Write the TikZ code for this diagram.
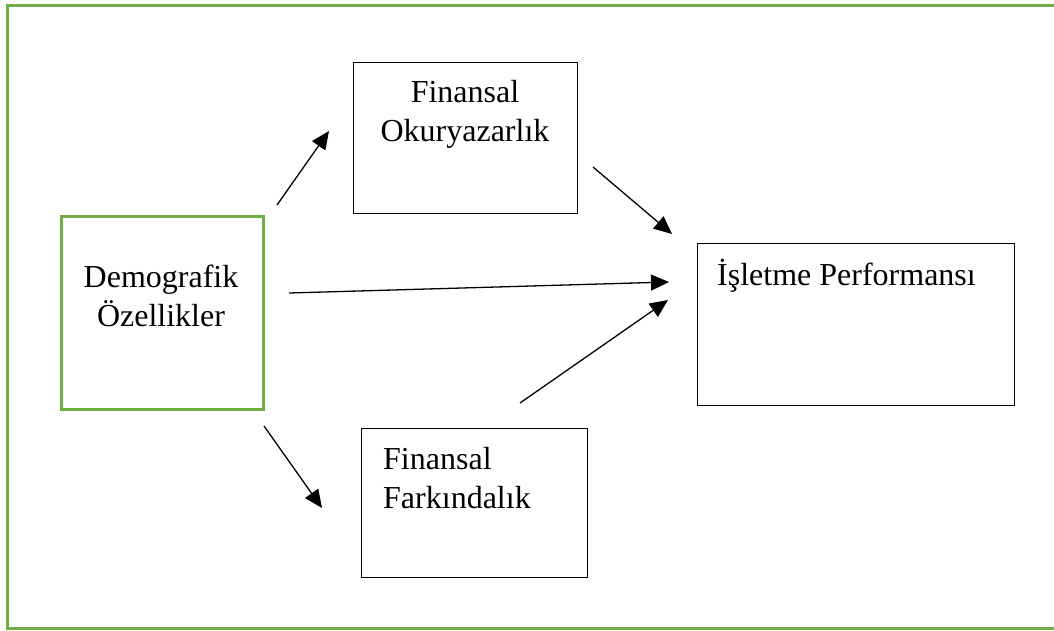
\documentclass[tikz,border=0pt]{standalone}
\usepackage{fontspec}
\setmainfont{Liberation Serif}
\usetikzlibrary{arrows.meta}
\definecolor{wordgreen}{RGB}{112,173,71}
\begin{document}
\begin{tikzpicture}[x=1pt,y=-1pt,
  box/.style={draw=black,line width=1.3pt,inner sep=0pt,anchor=north west},
  gbox/.style={draw=wordgreen,line width=2.6pt,inner sep=0pt,anchor=north west},
  txt/.style={font=\fontsize{32}{38}\selectfont,inner sep=0pt,anchor=base},
  txtl/.style={font=\fontsize{32}{38}\selectfont,inner sep=0pt,anchor=base west},
  arr/.style={line width=1.3pt,-{Triangle[length=18pt,width=16pt]}}]
\useasboundingbox (0,0) rectangle (1054,630);
% outer frame (open on the right)
\draw[wordgreen,line width=3pt] (1054,5) -- (7,5) -- (7,628) -- (1054,628);
% boxes
\node[box,minimum width=224pt,minimum height=151pt] (fo) at (353,62) {};
\node[gbox,minimum width=202pt,minimum height=193pt] (dem) at (60,215) {};
\node[box,minimum width=317pt,minimum height=162pt] (ip) at (697,243) {};
\node[box,minimum width=226pt,minimum height=149pt] (ff) at (361,428) {};
% texts
\node[txt] (t1) at (465,102) {Finansal};
\node[txt] (t2) at (465,141) {Okuryazarlık};
\node[txt] (t3) at (161,287) {Demografik};
\node[txt] (t4) at (161,326) {Özellikler};
\node[txtl] (t5) at (717,285) {İşletme Performansı};
\node[txtl] (t6) at (383,469) {Finansal};
\node[txtl] (t7) at (383,508) {Farkındalık};
% arrow end points
\coordinate (a1s) at (277,205); \coordinate (a1e) at (329,131);
\coordinate (a2s) at (593,167); \coordinate (a2e) at (672,234);
\coordinate (a3s) at (289,293); \coordinate (a3e) at (669,282);
\coordinate (a4s) at (520,403); \coordinate (a4e) at (668,300);
\coordinate (a5s) at (264,426); \coordinate (a5e) at (322,508);
\draw[arr] (a1s) -- (a1e);
\draw[arr] (a2s) -- (a2e);
\draw[arr] (a3s) -- (a3e);
\draw[arr] (a4s) -- (a4e);
\draw[arr] (a5s) -- (a5e);
\end{tikzpicture}
\end{document}
